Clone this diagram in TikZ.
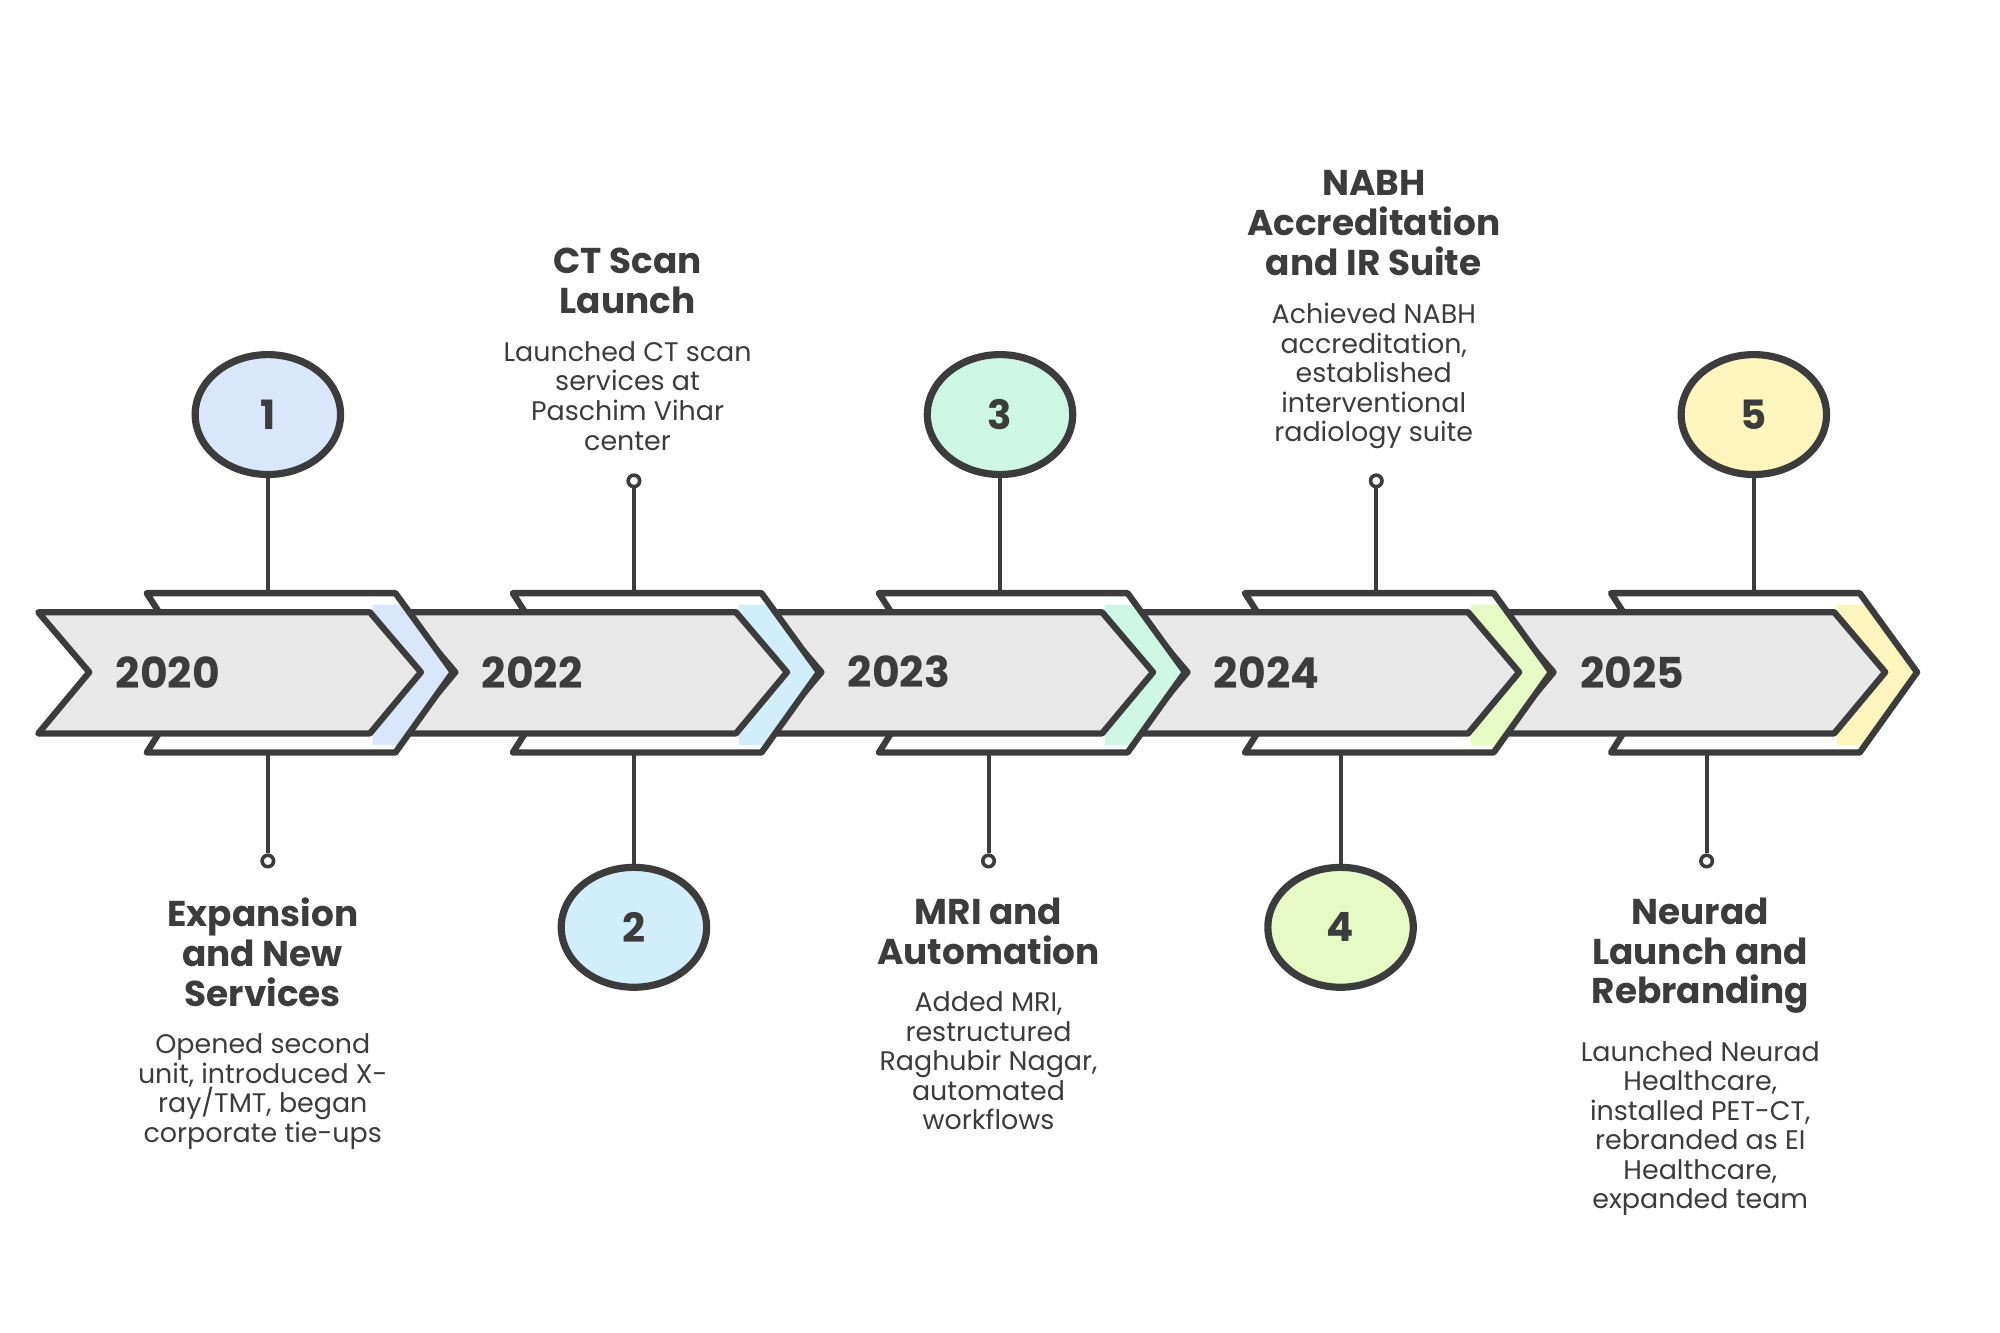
\documentclass[tikz,border=0pt]{standalone}
\usepackage{fontspec}
\setmainfont{Poppins}
\usetikzlibrary{shapes,arrows,positioning}

\definecolor{ink}{HTML}{3C3C3C}
\definecolor{band}{HTML}{E8E8E8}
\definecolor{cblue}{HTML}{DAE6FB}
\definecolor{ccyan}{HTML}{D2EEFA}
\definecolor{cmint}{HTML}{CDF7E4}
\definecolor{clime}{HTML}{E7FAC6}
\definecolor{cyell}{HTML}{FDF5BE}

\tikzset{
  backchev/.style={draw=ink,line width=1.4pt,line join=round},
  frontchev/.style={fill=band,draw=ink,line width=1.4pt,line join=round},
  yearlbl/.style={anchor=west,inner sep=0pt,text=ink,font=\bfseries\fontsize{9.5}{10}\selectfont},
  bignum/.style={ellipse,draw=ink,line width=1.6pt,minimum width=1.14cm,minimum height=0.94cm,text=ink,font=\bfseries\fontsize{9}{10}\selectfont},
  dotpin/.style={circle,draw=ink,fill=white,line width=0.8pt,inner sep=0pt,minimum size=0.09cm},
  stemline/.style={draw=ink,line width=0.9pt},
  headtxt/.style={align=center,inner sep=0pt,text=ink,font=\bfseries\fontsize{8}{8.9}\selectfont},
  bodytxt/.style={align=center,inner sep=0pt,text=ink,font=\fontsize{6}{6.6}\selectfont}
}

\begin{document}
\begin{tikzpicture}
\useasboundingbox (0,0) rectangle (15.68,-10.45);

% 2025 segment
\begin{scope}[xshift=11.48cm]
\fill[white] (1.15,-4.65) -- (3.10,-4.65) -- (3.55,-5.27) -- (3.10,-5.90) -- (1.15,-5.90) -- (1.55,-5.27) -- cycle;
\fill[cyell] (2.92,-4.74) -- (3.15,-4.74) -- (3.53,-5.27) -- (3.15,-5.84) -- (2.92,-5.84) -- cycle;
\draw[backchev] (1.15,-4.65) -- (3.10,-4.65) -- (3.55,-5.27) -- (3.10,-5.90) -- (1.15,-5.90) -- (1.55,-5.27) -- cycle;
\draw[frontchev] (0.30,-4.80) -- (2.90,-4.80) -- (3.30,-5.27) -- (2.90,-5.75) -- (0.30,-5.75) -- (0.70,-5.27) -- cycle;
\node[yearlbl] (y5) at (0.90,-5.27) {2025};
\end{scope}

% 2024 segment
\begin{scope}[xshift=8.61cm]
\fill[white] (1.15,-4.65) -- (3.10,-4.65) -- (3.55,-5.27) -- (3.10,-5.90) -- (1.15,-5.90) -- (1.55,-5.27) -- cycle;
\fill[clime] (2.92,-4.74) -- (3.15,-4.74) -- (3.53,-5.27) -- (3.15,-5.84) -- (2.92,-5.84) -- cycle;
\draw[backchev] (1.15,-4.65) -- (3.10,-4.65) -- (3.55,-5.27) -- (3.10,-5.90) -- (1.15,-5.90) -- (1.55,-5.27) -- cycle;
\draw[frontchev] (0.30,-4.80) -- (2.90,-4.80) -- (3.30,-5.27) -- (2.90,-5.75) -- (0.30,-5.75) -- (0.70,-5.27) -- cycle;
\node[yearlbl] (y4) at (0.90,-5.27) {2024};
\end{scope}

% 2023 segment
\begin{scope}[xshift=5.74cm]
\fill[white] (1.15,-4.65) -- (3.10,-4.65) -- (3.55,-5.27) -- (3.10,-5.90) -- (1.15,-5.90) -- (1.55,-5.27) -- cycle;
\fill[cmint] (2.92,-4.74) -- (3.15,-4.74) -- (3.53,-5.27) -- (3.15,-5.84) -- (2.92,-5.84) -- cycle;
\draw[backchev] (1.15,-4.65) -- (3.10,-4.65) -- (3.55,-5.27) -- (3.10,-5.90) -- (1.15,-5.90) -- (1.55,-5.27) -- cycle;
\draw[frontchev] (0.30,-4.80) -- (2.90,-4.80) -- (3.30,-5.27) -- (2.90,-5.75) -- (0.30,-5.75) -- (0.70,-5.27) -- cycle;
\node[yearlbl] (y3) at (0.90,-5.27) {2023};
\end{scope}

% 2022 segment
\begin{scope}[xshift=2.87cm]
\fill[white] (1.15,-4.65) -- (3.10,-4.65) -- (3.55,-5.27) -- (3.10,-5.90) -- (1.15,-5.90) -- (1.55,-5.27) -- cycle;
\fill[ccyan] (2.92,-4.74) -- (3.15,-4.74) -- (3.53,-5.27) -- (3.15,-5.84) -- (2.92,-5.84) -- cycle;
\draw[backchev] (1.15,-4.65) -- (3.10,-4.65) -- (3.55,-5.27) -- (3.10,-5.90) -- (1.15,-5.90) -- (1.55,-5.27) -- cycle;
\draw[frontchev] (0.30,-4.80) -- (2.90,-4.80) -- (3.30,-5.27) -- (2.90,-5.75) -- (0.30,-5.75) -- (0.70,-5.27) -- cycle;
\node[yearlbl] (y2) at (0.90,-5.27) {2022};
\end{scope}

% 2020 segment
\fill[white] (1.15,-4.65) -- (3.10,-4.65) -- (3.55,-5.27) -- (3.10,-5.90) -- (1.15,-5.90) -- (1.55,-5.27) -- cycle;
\fill[cblue] (2.92,-4.74) -- (3.15,-4.74) -- (3.53,-5.27) -- (3.15,-5.84) -- (2.92,-5.84) -- cycle;
\draw[backchev] (1.15,-4.65) -- (3.10,-4.65) -- (3.55,-5.27) -- (3.10,-5.90) -- (1.15,-5.90) -- (1.55,-5.27) -- cycle;
\draw[frontchev] (0.30,-4.80) -- (2.90,-4.80) -- (3.30,-5.27) -- (2.90,-5.75) -- (0.30,-5.75) -- (0.70,-5.27) -- cycle;
\node[yearlbl] (y1) at (0.90,-5.27) {2020};

% stem ends on the band
\coordinate (t1) at (2.10,-4.65);
\coordinate (t2) at (4.97,-4.65);
\coordinate (t3) at (7.84,-4.65);
\coordinate (t4) at (10.79,-4.65);
\coordinate (t5) at (13.75,-4.65);
\coordinate (b1) at (2.10,-5.90);
\coordinate (b2) at (4.97,-5.90);
\coordinate (b3) at (7.75,-5.90);
\coordinate (b4) at (10.51,-5.90);
\coordinate (b5) at (13.38,-5.90);

% numbered circles
\node[bignum,fill=cblue] (c1) at (2.10,-3.25) {1};
\node[bignum,fill=ccyan] (c2) at (4.97,-7.27) {2};
\node[bignum,fill=cmint] (c3) at (7.84,-3.25) {3};
\node[bignum,fill=clime] (c4) at (10.51,-7.27) {4};
\node[bignum,fill=cyell] (c5) at (13.75,-3.25) {5};

% small pins
\node[dotpin] (d1) at (2.10,-6.75) {};
\node[dotpin] (d2) at (4.97,-3.77) {};
\node[dotpin] (d3) at (7.75,-6.75) {};
\node[dotpin] (d4) at (10.79,-3.77) {};
\node[dotpin] (d5) at (13.38,-6.75) {};

\draw[stemline] (c1) -- (t1);
\draw[stemline] (d1) -- (b1);
\draw[stemline] (d2) -- (t2);
\draw[stemline] (c2) -- (b2);
\draw[stemline] (c3) -- (t3);
\draw[stemline] (d3) -- (b3);
\draw[stemline] (d4) -- (t4);
\draw[stemline] (c4) -- (b4);
\draw[stemline] (c5) -- (t5);
\draw[stemline] (d5) -- (b5);

% texts
\node[headtxt,anchor=north] (h1) at (2.06,-7.03) {Expansion\\and New\\Services};
\node[bodytxt,below=0.2cm of h1] (p1) {Opened second\\unit, introduced X-\\ray/TMT, began\\corporate tie-ups};
\node[headtxt,anchor=north] (h2) at (4.92,-1.94) {CT Scan\\Launch};
\node[bodytxt,below=0.2cm of h2] (p2) {Launched CT scan\\services at\\Paschim Vihar\\center};
\node[headtxt,anchor=north] (h3) at (7.75,-7.03) {MRI and\\Automation};
\node[bodytxt,below=0.2cm of h3] (p3) {Added MRI,\\restructured\\Raghubir Nagar,\\automated\\workflows};
\node[headtxt,anchor=north] (h4) at (10.77,-1.33) {NABH\\Accreditation\\and IR Suite};
\node[bodytxt,below=0.2cm of h4] (p4) {Achieved NABH\\accreditation,\\established\\interventional\\radiology suite};
\node[headtxt,anchor=north] (h5) at (13.33,-7.03) {Neurad\\Launch and\\Rebranding};
\node[bodytxt,below=0.2cm of h5] (p5) {Launched Neurad\\Healthcare,\\installed PET-CT,\\rebranded as EI\\Healthcare,\\expanded team};
\end{tikzpicture}
\end{document}
